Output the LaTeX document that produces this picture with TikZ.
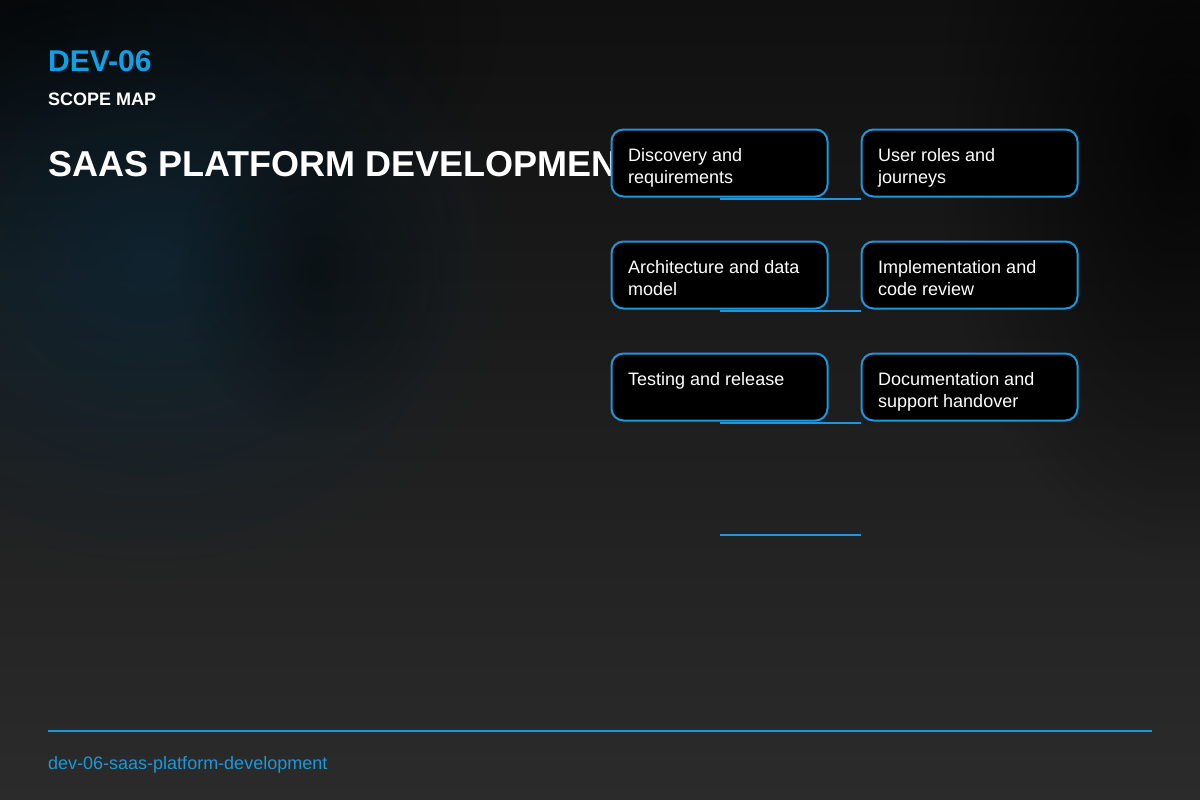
\documentclass[tikz,border=0pt]{standalone}
\usepackage{fontspec}
\setmainfont{Liberation Sans}
\usepackage{tikz}
\usetikzlibrary{positioning,calc,fadings}
\definecolor{scopeBlue} {RGB}{14, 160, 232}
\definecolor{edgeBlue}  {RGB}{28, 152, 218}
\definecolor{bgTop}     {RGB}{16,  16,  16}
\definecolor{bgBottom}  {RGB}{43,  43,  43}
\definecolor{glowBlue}  {RGB}{12,  38,  54}
\tikzfading[name=softglow, inner color=transparent!0, outer color=transparent!100]

\begin{document}
\begin{tikzpicture}[x=1pt,y=-1pt,
    stagebox/.style={draw=edgeBlue,line width=2pt,fill=black,rounded corners=12pt,
      minimum width=216pt,minimum height=67pt,inner sep=0pt,outer sep=0pt},
    stagetext/.style={white,anchor=north west,inner sep=0pt,align=left,
      font=\fontsize{18}{22}\selectfont},
    link/.style={draw=edgeBlue,line width=2pt}]
  \useasboundingbox (0,0) rectangle (1200,800);

  % background
  \shade[top color=bgTop,bottom color=bgBottom] (0,0) rectangle (1200,800);
  \fill[black,opacity=0.7,path fading=softglow] (40,30) ellipse (460 and 240);
  \fill[black,opacity=0.75,path fading=softglow] (1180,140) ellipse (240 and 420);
  \fill[glowBlue,opacity=0.75,path fading=softglow] (150,260) ellipse (360 and 320);
  \fill[black,opacity=0.4,path fading=softglow] (320,270) ellipse (140 and 170);

  % heading
  \node[scopeBlue,anchor=base west,inner sep=0pt,font=\bfseries\fontsize{30}{36}\selectfont]
    (code) at (48,72) {DEV-06};
  \node[white,anchor=base west,inner sep=0pt,font=\bfseries\fontsize{18}{22}\selectfont]
    (kicker) at (48,105) {SCOPE MAP};
  \node[white,anchor=base west,inner sep=0pt,font=\bfseries\fontsize{36}{43}\selectfont]
    (title) at (48,176) {SAAS PLATFORM DEVELOPMENT};

  % scope items
  \foreach \n/\x/\y/\txt in {1/719.5/163/{Discovery and\\requirements},
                             2/969.5/163/{User roles and\\journeys},
                             3/719.5/275/{Architecture and data\\model},
                             4/969.5/275/{Implementation and\\code review},
                             5/719.5/387/{Testing and release},
                             6/969.5/387/{Documentation and\\support handover}}{
    \node[stagebox] (s\n) at (\x,\y) {};
    \node[stagetext] (t\n) at ($(s\n.north west)+(16.5,18.5)$) {\txt};
  }
  \foreach \a/\b in {1/2,3/4,5/6}{
    \draw[link] ($(s\a.south)+(0,2)$) -- ($(s\b.south west)+(-1,2)$);
  }
  \coordinate (tailA) at ($(s5.south)+(0,114)$);
  \coordinate (tailB) at ($(s6.south west)+(-1,114)$);
  \draw[link] (tailA) -- (tailB);

  % footer
  \coordinate (footL) at (48,731);
  \coordinate (footR) at (1152,731);
  \draw[link] (footL) -- (footR);
  \node[edgeBlue,anchor=base west,inner sep=0pt,font=\fontsize{18}{22}\selectfont]
    (slug) at (48,769) {dev-06-saas-platform-development};
\end{tikzpicture}
\end{document}
